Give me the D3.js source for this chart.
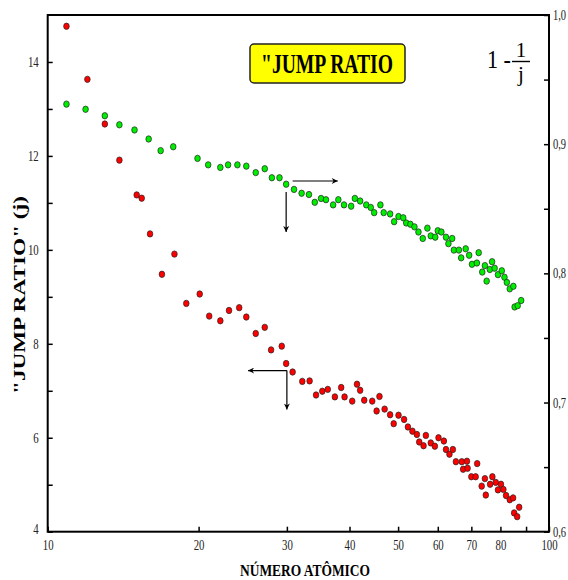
<!DOCTYPE html>
<html>
<head>
<meta charset="utf-8">
<script src="https://cdn.jsdelivr.net/npm/d3@7"></script>
<style>
  body { margin: 0; background: #fff; }
  text { font-family: "Liberation Serif", "DejaVu Serif", serif; }
</style>
</head>
<body>
<svg width="568" height="580"></svg>
<script>
// data
var redZ = [10.9,12.0,13.0,13.9,15.05,15.4,16.0,16.9,17.9,18.9,20.1,21.0,22.1,23.0,24.1,24.9,26.0,27.1,27.9,29.3,29.9,30.8,32.2,33.3,34.3,35.3,36.2,37.4,38.5,39.1,40.5,41.4,42.0,42.8,44.4,45.3,45.9,47.0,48.2,49.0,50.1,51.4,52.3,53.4,54.5,55.1,56.2,56.8,58.1,59.2,60.2,61.7,62.3,63.3,64.3,65.2,67.0,67.4,68.6,68.8,70.0,71.4,71.9,73.4,74.5,74.8,76.3,77.1,78.3,79.1,80.2,81.1,82.1,83.5,84.8,85.2,86.4,87.2];
var redJ = [14.76,13.63,12.68,11.91,11.17,11.10,10.34,9.48,9.91,8.86,9.06,8.59,8.49,8.71,8.77,8.57,8.22,8.35,7.87,7.95,7.58,7.40,7.20,7.21,6.91,6.99,7.03,6.87,7.07,6.87,6.78,7.14,7.01,6.80,6.78,6.57,6.88,6.61,6.49,6.30,6.48,6.39,6.23,6.14,6.07,5.91,5.83,6.05,5.89,5.82,6.00,5.93,5.75,5.65,5.75,5.49,5.49,5.33,5.50,5.35,5.17,5.17,5.45,4.97,5.13,4.78,5.01,5.17,5.05,4.89,5.01,4.90,4.77,4.68,4.72,4.40,4.32,4.52];
var greenZ = [10.9,11.9,13.0,13.9,14.9,15.9,16.8,17.8,19.9,20.9,22.1,22.9,23.9,24.9,26.0,27.1,28.0,29.0,29.9,31.0,32.1,33.2,34.1,35.1,35.9,37.1,38.0,39.0,40.3,41.0,42.0,43.2,44.1,44.8,46.1,46.8,48.2,49.1,50.1,51.2,51.9,52.9,53.9,54.9,56.0,57.2,58.1,59.3,60.0,61.0,62.3,63.0,64.1,64.6,66.1,66.8,68.2,69.3,70.2,71.8,72.4,73.6,74.5,75.1,76.2,77.0,77.9,79.1,80.5,81.5,82.4,83.5,84.9,85.4,86.6,88.0];
var greenF = [0.931,0.927,0.922,0.915,0.911,0.904,0.895,0.898,0.889,0.884,0.882,0.884,0.884,0.883,0.878,0.881,0.874,0.874,0.869,0.865,0.862,0.861,0.855,0.858,0.857,0.853,0.857,0.853,0.852,0.858,0.856,0.853,0.851,0.847,0.853,0.847,0.846,0.840,0.844,0.843,0.839,0.838,0.836,0.832,0.827,0.835,0.829,0.828,0.833,0.832,0.828,0.823,0.827,0.818,0.818,0.812,0.819,0.814,0.807,0.808,0.816,0.801,0.806,0.794,0.803,0.809,0.804,0.799,0.802,0.797,0.793,0.788,0.790,0.774,0.775,0.779];

var xTicks = [10,20,30,40,50,60,70,80,90,100];
var xLabels = ["10","20","30","40","50","60","70","80","","100"];
var leftTicks = [4,5,6,7,8,9,10,11,12,13,14];
var leftLabels = ["4","","6","","8","","10","","12","","14"];
var rightTicks = [0.6,0.65,0.7,0.75,0.8,0.85,0.9,0.95,1.0];
var rightLabels = ["0,6","","0,7","","0,8","","0,9","","1,0"];

var svg = d3.select("svg");

// plot box
var L = 47.7, R = 549, T = 15, B = 531.7;
var x = d3.scaleLog().domain([10, 100]).range([L, R]);
var yL = d3.scaleLinear().domain([4, 15]).range([B, T]);
var yR = d3.scaleLinear().domain([0.6, 1.0]).range([B, T]);

// squeeze text horizontally (the original font is narrow)
function squeeze(sel, f) {
  sel.each(function() {
    var w = this.getComputedTextLength();
    if (w > 0) d3.select(this).attr("textLength", w * f).attr("lengthAdjust", "spacingAndGlyphs");
  });
}

// axes
var gx = svg.append("g").attr("transform", "translate(0," + B + ")")
  .call(d3.axisBottom(x).tickValues(xTicks).tickSize(-5).tickPadding(10)
    .tickFormat((d, i) => xLabels[i]));
var gl = svg.append("g").attr("transform", "translate(" + L + ",0)")
  .call(d3.axisLeft(yL).tickValues(leftTicks).tickSize(-5).tickPadding(9)
    .tickFormat((d, i) => leftLabels[i]));
var gr = svg.append("g").attr("transform", "translate(" + R + ",0)")
  .call(d3.axisRight(yR).tickValues(rightTicks).tickSize(-5).tickPadding(4)
    .tickFormat((d, i) => rightLabels[i]));

[gx, gl].forEach(g => {
  g.select(".domain").remove();
  g.selectAll(".tick line").attr("stroke", "#000").attr("stroke-width", 1.5);
  g.selectAll("text").attr("font-family", "Liberation Serif").attr("font-size", 15).attr("fill", "#222");
  squeeze(g.selectAll("text"), 0.72);
});
gx.selectAll("text").attr("dy", "0.55em");
gl.select(".tick text").attr("dy", "0.1em");

gr.select(".domain").remove();
gr.selectAll(".tick line").attr("stroke", "#000").attr("stroke-width", 1.5);
// right labels: narrow via a scale so that they stay inside the page
gr.selectAll(".tick text")
  .attr("x", 0)
  .attr("transform", "translate(4,0) scale(0.75,1)")
  .attr("font-family", "Liberation Serif").attr("font-size", 14).attr("fill", "#222");

svg.append("rect")
  .attr("x", L).attr("y", T).attr("width", R - L).attr("height", B - T)
  .attr("fill", "none").attr("stroke", "#000").attr("stroke-width", 2);

// arrow marker
svg.append("defs").append("marker")
  .attr("id", "arr").attr("viewBox", "0 0 10 10")
  .attr("refX", 10).attr("refY", 5)
  .attr("markerWidth", 10).attr("markerHeight", 6)
  .attr("markerUnits", "userSpaceOnUse")
  .attr("orient", "auto")
  .append("path").attr("d", "M0,0 L10,5 L0,10 L3,5 Z").attr("fill", "#000");

function arrow(x1, y1, x2, y2) {
  svg.append("line")
    .attr("x1", x1).attr("y1", y1).attr("x2", x2).attr("y2", y2)
    .attr("stroke", "#000").attr("stroke-width", 1.2)
    .attr("marker-end", "url(#arr)");
}
// green -> right axis
arrow(x(30.8), yR(0.8715), x(37.9), yR(0.8715));
arrow(x(29.9), yR(0.863), x(29.9), yR(0.832));
// red -> left axis
arrow(x(30), yL(7.43), x(25.1), yL(7.43));
arrow(x(30), yL(7.43), x(30), yL(6.6));

// points
svg.append("g").selectAll("ellipse").data(redZ).enter().append("ellipse")
  .attr("cx", d => x(d))
  .attr("cy", (d, i) => yL(redJ[i]))
  .attr("rx", 2.8).attr("ry", 3.2)
  .attr("fill", "#ff0000").attr("stroke", "#222").attr("stroke-width", 0.7);

svg.append("g").selectAll("ellipse").data(greenZ).enter().append("ellipse")
  .attr("cx", d => x(d))
  .attr("cy", (d, i) => yR(greenF[i]))
  .attr("rx", 2.8).attr("ry", 3.2)
  .attr("fill", "#00ee00").attr("stroke", "#222").attr("stroke-width", 0.7);

// title box
svg.append("rect")
  .attr("x", 250).attr("y", 44).attr("width", 155).attr("height", 39).attr("rx", 4)
  .attr("fill", "#ffff00").attr("stroke", "#222").attr("stroke-width", 1.5);
svg.append("text")
  .attr("x", 327).attr("y", 73).attr("text-anchor", "middle")
  .attr("font-size", 27).attr("font-weight", "bold")
  .attr("textLength", 132).attr("lengthAdjust", "spacingAndGlyphs")
  .text("\"JUMP  RATIO");

// 1 - 1/j
svg.append("text").attr("x", 487).attr("y", 68)
  .attr("font-size", 25).attr("textLength", 24).attr("lengthAdjust", "spacingAndGlyphs")
  .text("1 -");
svg.append("text").attr("x", 521).attr("y", 57).attr("text-anchor", "middle")
  .attr("font-size", 21).text("1");
svg.append("line").attr("x1", 512).attr("x2", 530).attr("y1", 61.5).attr("y2", 61.5)
  .attr("stroke", "#000").attr("stroke-width", 1.4);
svg.append("text").attr("x", 521).attr("y", 81).attr("text-anchor", "middle")
  .attr("font-size", 21).text("j");

// axis titles
svg.append("text")
  .attr("transform", "translate(25,295) rotate(-90)")
  .attr("text-anchor", "middle")
  .attr("font-size", 17).attr("font-weight", "bold")
  .attr("textLength", 198).attr("lengthAdjust", "spacingAndGlyphs")
  .text("\"JUMP  RATIO\"  (j)");

svg.append("text")
  .attr("x", 305).attr("y", 576).attr("text-anchor", "middle")
  .attr("font-size", 16).attr("font-weight", "bold")
  .attr("textLength", 130).attr("lengthAdjust", "spacingAndGlyphs")
  .text("NÚMERO  ATÔMICO");
</script>
</body>
</html>
